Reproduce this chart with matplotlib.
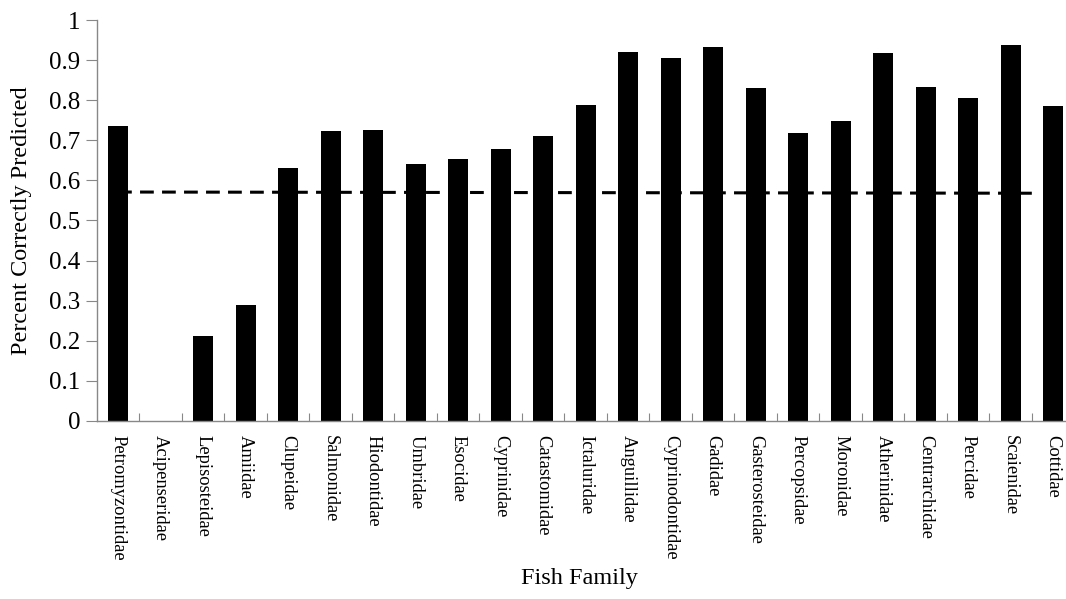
import numpy as np
import matplotlib.pyplot as plt
from matplotlib.ticker import FixedLocator, NullFormatter

plt.rcParams['font.family'] = ['Liberation Serif', 'DejaVu Serif']

families = ['Petromyzontidae', 'Acipenseridae', 'Lepisosteidae', 'Amiidae',
            'Clupeidae', 'Salmonidae', 'Hiodontidae', 'Umbridae', 'Esocidae',
            'Cyprinidae', 'Catastomidae', 'Ictaluridae', 'Anguillidae',
            'Cyprinodontidae', 'Gadidae', 'Gasterosteidae', 'Percopsidae',
            'Moronidae', 'Atherinidae', 'Centrarchidae', 'Percidae',
            'Scaienidae', 'Cottidae']
pct_correct = [0.736, 0.0, 0.211, 0.289, 0.630, 0.724, 0.725, 0.640, 0.654,
               0.678, 0.711, 0.789, 0.921, 0.906, 0.933, 0.830, 0.717,
               0.749, 0.918, 0.832, 0.806, 0.938, 0.786]
# overall mean line, spans first family to Scaienidae
mean_x = [0, 21.5]
mean_y = [0.571, 0.568]

fig = plt.figure(figsize=(10.66, 5.99), dpi=100)
ax = fig.add_axes([0.0908, 0.2972, 0.917, 0.6694])

x = np.arange(len(families))
ax.bar(x, pct_correct, width=0.47, color='black', zorder=2)
ax.plot(mean_x, mean_y, color='black', lw=2.2, linestyle=(0, (4.5, 2.7)), zorder=1)

ax.set_xlim(-0.5, len(families) - 0.5)
ax.set_ylim(0, 1)
ax.set_yticks(np.arange(0, 1.01, 0.1))
ax.set_yticklabels(['0'] + [f'{v:.1f}' for v in np.arange(0.1, 0.95, 0.1)] + ['1'])

# boundary ticks (major, no labels), family names on minor ticks
ax.xaxis.set_major_locator(FixedLocator(np.arange(0.5, len(families) - 0.5, 1)))
ax.xaxis.set_major_formatter(NullFormatter())
ax.xaxis.set_minor_locator(FixedLocator(x))
ax.set_xticklabels(families, minor=True, rotation=-90, fontsize=13.3, va='top')
ax.tick_params(axis='x', which='major', direction='in', length=6, color='#888888')
ax.tick_params(axis='x', which='minor', length=0, pad=10)
ax.tick_params(axis='y', direction='out', length=8, color='#888888', labelsize=18, pad=4)

for s in ['top', 'right']:
    ax.spines[s].set_visible(False)
for s in ['left', 'bottom']:
    ax.spines[s].set_color('#888888')
    ax.spines[s].set_linewidth(1.0)

ax.set_ylabel('Percent Correctly Predicted', fontsize=17.5)
ax.yaxis.set_label_coords(-0.066, 0.5)
fig.text(0.544, 0.035, 'Fish Family', fontsize=17.5, ha='center', va='center')

fig.savefig('out.png', dpi=100)
